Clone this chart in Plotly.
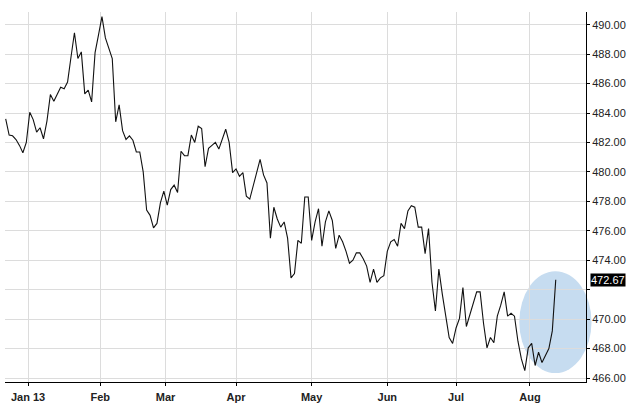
import plotly.graph_objects as go

# Daily closing values (one per trading day)
prices = [
    483.6, 482.5, 482.45, 482.2, 481.8, 481.3, 482.0, 484.05, 483.55, 482.7,
    483.0, 482.25, 483.45, 485.25, 484.8, 485.25, 485.75, 485.65, 486.1, 487.8,
    489.45, 487.7, 488.15, 485.3, 485.55, 484.75, 488.1, 489.3, 490.55, 489.1,
    488.45, 487.7, 483.4, 484.55, 482.8, 482.2, 482.45, 482.15, 481.35, 481.35,
    480.0, 477.4, 477.05, 476.2, 476.5, 477.9, 478.7, 477.75, 478.8, 479.1,
    478.6, 481.4, 481.1, 481.1, 482.5, 482.0, 483.1, 482.95, 480.35, 481.6,
    481.8, 482.0, 481.55, 482.25, 482.9, 482.0, 479.95, 480.2, 479.7, 479.95,
    478.35, 478.15, 479.05, 480.05, 480.85, 479.8, 479.25, 475.5, 477.6, 476.8,
    476.25, 476.6, 475.5, 472.8, 473.1, 475.35, 475.15, 478.3, 478.3, 475.35,
    476.6, 477.5, 474.95, 476.6, 477.35, 476.7, 474.8, 475.7, 475.25, 474.6,
    473.8, 474.0, 474.5, 474.5, 474.1, 473.6, 472.5, 473.4, 472.5, 472.8,
    472.95, 474.6, 475.25, 475.4, 474.95, 476.5, 476.15, 477.35, 477.7, 477.6,
    476.25, 476.25, 474.45, 476.15, 472.5, 470.55, 473.4, 471.7, 470.15, 468.75,
    468.35, 469.4, 470.05, 472.15, 469.5, 470.25, 471.05, 471.85, 471.85, 469.7,
    468.05, 468.75, 468.4, 470.2, 470.95, 471.85, 470.2, 470.4, 470.2, 468.5,
    467.3, 466.5, 468.05, 468.35, 466.85, 467.75, 467.05, 467.5, 468.0, 469.2,
    472.67,
]
days = list(range(len(prices)))

# Month boundaries (trading-day index) and labels
month_ticks = [6.5, 27.5, 46.5, 67, 89, 111, 131, 152.5]
month_labels = ["Jan 13", "Feb", "Mar", "Apr", "May", "Jun", "Jul", "Aug"]

# Price axis ticks
price_ticks = [466, 468, 470, 472, 474, 476, 478, 480, 482, 484, 486, 488, 490]
price_labels = ["466.00", "468.00", "470.00", "", "474.00", "476.00", "478.00",
                "480.00", "482.00", "484.00", "486.00", "488.00", "490.00"]
last_label = "472.67"

x_range = [-0.2, 168.8]
y_range = [465.73, 490.86]

# highlight ellipse (data units)
ell_x = [149.4, 170.4]
ell_y = [466.34, 473.26]


def px_x(v):
    return (v - x_range[0]) / (x_range[1] - x_range[0])


def px_y(v):
    return (v - y_range[0]) / (y_range[1] - y_range[0])


fig = go.Figure()
fig.add_trace(go.Scatter(
    x=days, y=prices, mode="lines",
    line=dict(color="#111111", width=1.1),
    hoverinfo="skip", showlegend=False,
))

fig.add_shape(
    type="circle", xref="paper", yref="paper",
    x0=px_x(ell_x[0]), x1=px_x(ell_x[1]),
    y0=px_y(ell_y[0]), y1=px_y(ell_y[1]),
    fillcolor="#c6dcf0", line=dict(width=0), layer="below",
)

fig.add_annotation(
    xref="paper", yref="y", x=1, y=prices[-1], xanchor="left", yanchor="middle",
    xshift=4, text=last_label, showarrow=False,
    font=dict(family="Liberation Sans, Arial", size=11, color="white"),
    bgcolor="black", borderpad=0,
)

fig.update_layout(
    width=631, height=408,
    margin=dict(l=5, r=43, t=12, b=18),
    paper_bgcolor="white", plot_bgcolor="white",
    showlegend=False,
    xaxis=dict(
        range=x_range, tickmode="array", tickvals=month_ticks, ticktext=month_labels,
        showgrid=True, gridcolor="#dcdcdc", gridwidth=1,
        showline=True, linecolor="black", linewidth=1,
        ticks="outside", ticklen=3, tickcolor="black", ticklabelstandoff=2,
        tickfont=dict(family="Liberation Sans, Arial", size=11, color="#222222", weight="bold"),
        zeroline=False, fixedrange=True,
    ),
    yaxis=dict(
        range=y_range, side="right", tickmode="array", tickvals=price_ticks,
        ticktext=price_labels,
        showgrid=True, gridcolor="#dcdcdc", gridwidth=1,
        showline=True, linecolor="black", linewidth=1,
        ticks="outside", ticklen=3, tickcolor="black",
        tickfont=dict(family="Liberation Sans, Arial", size=11, color="#222222"),
        zeroline=False, fixedrange=True,
    ),
)

fig.write_html(
    "out.html",
    config={"displayModeBar": False},
    post_script="document.body.style.margin='0';document.body.style.overflow='hidden';",
)
